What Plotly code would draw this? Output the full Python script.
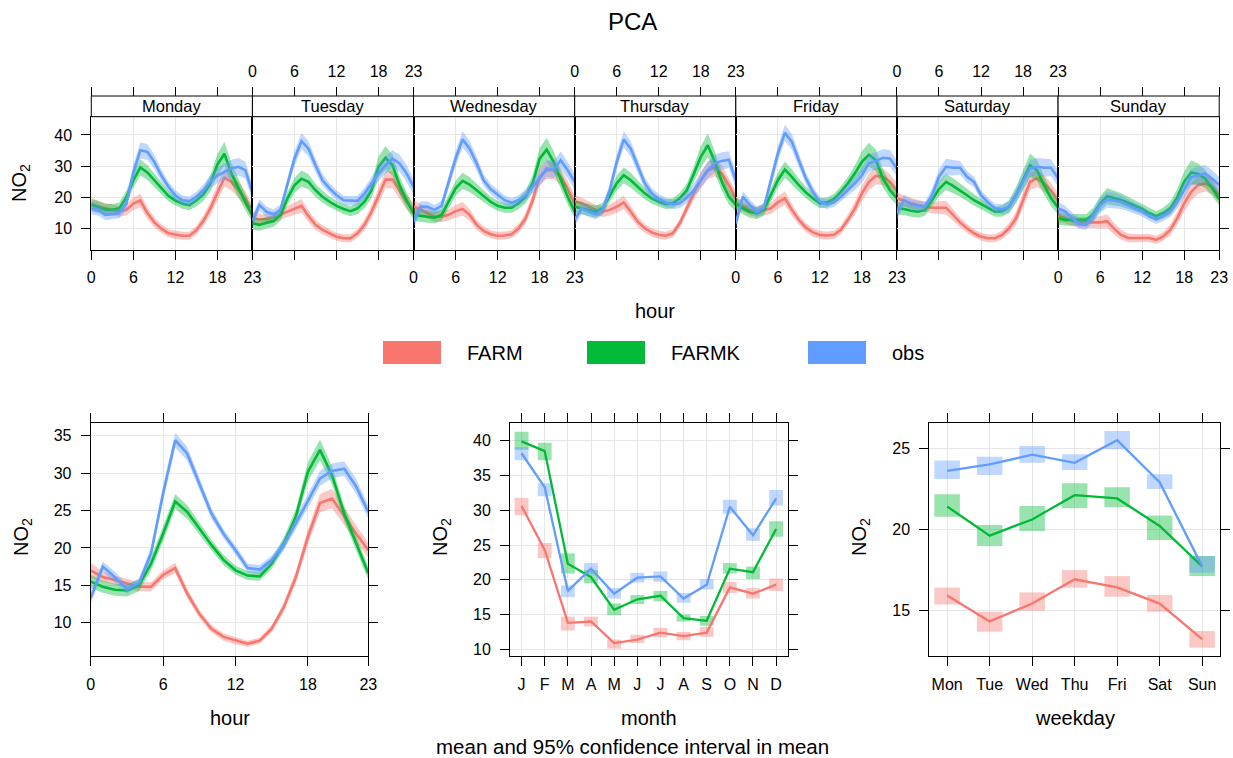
import plotly.graph_objects as go

W, H = 1233, 758
FONT = "Liberation Sans, Arial, Helvetica, sans-serif"
GRID = "#E6E6E6"
COLORS = {"FARM": "#F8766D", "FARMK": "#00BA38", "obs": "#619CFF"}

# ---------------- data ----------------
hours = list(range(24))
days = ["Monday", "Tuesday", "Wednesday", "Thursday", "Friday", "Saturday", "Sunday"]
hour_ticks = [0, 6, 12, 18, 23]
month_labels = ["J", "F", "M", "A", "M", "J", "J", "A", "S", "O", "N", "D"]
weekday_labels = ["Mon", "Tue", "Wed", "Thu", "Fri", "Sat", "Sun"]

# day x hour means (Mon..Sun)
FARM_week = [
    [18, 17, 16.5, 16, 15.5, 16, 18, 19, 15, 12, 10, 8.5, 8, 7.7, 7.7, 9.5, 12.5, 16.5, 21.5, 26.3, 25, 22.5, 19.5, 15.5],
    [13.3, 13, 13, 13.5, 14.5, 15.5, 16.5, 17.3, 14, 11.2, 9.6, 8.5, 7.4, 6.9, 6.9, 8.5, 11.2, 15.4, 20.7, 25.7, 25.7, 22.3, 18.6, 16],
    [17, 16.2, 14.9, 13.8, 13.8, 14.4, 15.6, 16.3, 14.4, 11.2, 9.3, 8.2, 7.7, 7.8, 8.2, 10.1, 13.3, 19.1, 26.6, 28.7, 28.7, 26.6, 22.9, 18.1],
    [18.8, 18.1, 17, 16, 15.4, 16, 17, 18.4, 15.4, 12.2, 10.1, 8.8, 8, 7.7, 8.5, 11.7, 16.5, 21.3, 25.5, 28.7, 29.5, 27.7, 23.9, 19.7],
    [18.1, 17.3, 16, 15.4, 16, 16.5, 18.4, 19.7, 16, 12.8, 10.3, 8.8, 8, 7.8, 8, 9.6, 12.8, 16.5, 21.3, 25, 26.9, 26.6, 25, 22.3],
    [19.7, 18.8, 18.1, 17.6, 17, 16.7, 16.7, 16.7, 14.4, 12, 10.1, 8.5, 7.4, 6.9, 6.9, 8, 10.1, 13.3, 19.1, 25, 26.1, 24.5, 22.3, 19.1],
    [14, 13.5, 12.5, 12, 12, 12, 12, 12.4, 10, 8, 7, 7, 7, 7, 6.4, 7.5, 9.6, 13.3, 18.1, 21.8, 24, 24.5, 23.4, 20.7],
]
FARMK_week = [
    [17.5, 17, 16, 16, 16.5, 20, 25.5, 29.6, 28, 25.5, 23, 20.5, 19, 18, 17.5, 19, 21, 24.5, 30.5, 34, 27.7, 22.9, 18.4, 14.2],
    [11.7, 11.2, 11.9, 12.4, 14.4, 19.7, 23.9, 26, 25, 22.3, 20.2, 18.6, 17.3, 16.3, 15.6, 16.5, 18.6, 22.3, 29.8, 32.7, 30.3, 23.9, 19.1, 14.9],
    [14.4, 14.1, 13.8, 13.5, 14.4, 18.6, 22.9, 25.3, 24.1, 22.3, 20.4, 18.6, 17.3, 16.7, 16.7, 18.1, 20.2, 24.5, 32.4, 35.3, 31.4, 25.5, 20.2, 15.4],
    [17, 16.5, 16, 15.4, 16.5, 20.7, 24.5, 27.1, 25.5, 23.4, 21.3, 19.7, 18.6, 17.8, 18.1, 19.7, 22.3, 27.5, 33, 36.7, 31.4, 25, 20.2, 17.6],
    [18.1, 16.5, 15.4, 14.9, 16, 20.7, 25.5, 28.9, 26.6, 23.9, 21.6, 19.7, 18.1, 18.4, 19.5, 21.8, 24.5, 27.7, 31.4, 33.7, 31.9, 26.1, 22.3, 19.7],
    [16.5, 16.3, 15.7, 15.4, 16, 19.1, 22.7, 25, 23.7, 22.3, 20.7, 19.1, 17.8, 16.5, 15.4, 15.6, 17, 20.7, 25.5, 30.3, 28.7, 23.9, 19.7, 16.7],
    [13.3, 12.8, 12.8, 12.8, 12.8, 14.5, 18, 20.4, 19.8, 19.2, 18.3, 17.3, 16.3, 15, 14, 15, 16.5, 20, 25, 28, 27.5, 26, 23, 19.5],
]
obs_week = [
    [16.5, 16, 14.4, 14.6, 14.9, 18, 28, 35.1, 34.6, 31.4, 27, 23.4, 20.7, 19.1, 18.8, 20.2, 22.3, 25, 27, 28.2, 29.3, 29.8, 28.7, 21.5],
    [12.4, 17.6, 15.4, 14.6, 16, 24.5, 32.4, 38, 35.6, 30.3, 25.5, 22.9, 20.7, 19.1, 18.9, 18.9, 21.3, 24.5, 27.7, 30.3, 32.4, 30.9, 27.7, 23.4],
    [12.2, 17, 17, 16, 17.3, 25, 32.4, 38.6, 35.6, 30.9, 25.5, 22.7, 21, 19.1, 18.3, 19.1, 20.7, 23.4, 26.1, 29.3, 28.9, 31.9, 28.7, 25],
    [12.8, 16.5, 15.4, 14.6, 16, 22.3, 31.4, 38.6, 35.6, 29.8, 24.5, 21.3, 19.5, 18.4, 17.8, 18.1, 19.9, 22.3, 25.5, 28.7, 30.9, 31.7, 32.1, 25.5],
    [11.7, 20.2, 17.6, 15.4, 16.7, 25, 34, 40.7, 37.8, 31.9, 26.1, 21.8, 18.6, 17.8, 18.4, 20.2, 22.3, 24.5, 27.1, 30.9, 31.7, 32.7, 32.5, 29.3],
    [14.9, 19.1, 17.8, 17.3, 17, 20.7, 26.6, 29.8, 29.5, 29.5, 26.6, 25, 20.7, 18.4, 16.5, 16.2, 17, 20.7, 25, 29.3, 29.8, 29.5, 29.5, 26.1],
    [16.5, 15.5, 13.5, 11.5, 11.2, 14, 17.5, 19.3, 19, 18.5, 17.5, 16.5, 15.5, 14, 13, 14, 15.5, 18.5, 22.5, 26.5, 27, 27.7, 26, 24],
]
# 95% CI half-widths by hour for the day x hour panels
FARM_week_ci = [2.0, 1.8, 1.7, 1.7, 1.7, 1.8, 2.0, 2.2, 1.9, 1.6, 1.4, 1.3, 1.3, 1.3, 1.3, 1.4, 1.7, 2.1, 2.6, 2.8, 2.8, 2.6, 2.4, 2.2]
FARMK_week_ci = [2.0, 1.9, 1.9, 1.9, 1.9, 2.1, 2.4, 2.6, 2.4, 2.1, 1.9, 1.7, 1.6, 1.6, 1.6, 1.8, 2.1, 2.6, 3.4, 3.8, 3.4, 2.9, 2.5, 2.2]
obs_week_ci = [2.0, 1.8, 1.7, 1.6, 1.6, 2.0, 2.4, 2.6, 2.5, 2.2, 1.9, 1.7, 1.6, 1.5, 1.5, 1.6, 1.8, 2.1, 2.5, 2.7, 2.8, 2.8, 2.7, 2.5]

# overall hour panel
FARM_hour = [17, 16.1, 15.7, 15.2, 14.8, 14.8, 16.4, 17.3, 13.9, 11.2, 9.2, 8.1, 7.6, 7.2, 7.6, 9.2, 12.1, 16.1, 21.5, 26, 26.6, 24.2, 21.9, 19.7]
FARMK_hour = [15.5, 14.8, 14.4, 14.3, 15, 17.9, 21.9, 26.2, 24.8, 22.6, 20.4, 18.4, 17, 16.3, 16.2, 17.9, 20.6, 24.2, 30.2, 33.1, 29.7, 24.6, 20.6, 16.6]
obs_hour = [13.3, 17.5, 16.1, 14.5, 15.3, 19.3, 27.3, 34.4, 32.6, 28.6, 24.6, 21.9, 19.7, 17.3, 17.1, 18.4, 20.4, 23.3, 26.4, 29.3, 30.3, 30.6, 28.2, 24.8]
FARM_hour_ci = [1.0, 0.7, 0.6, 0.6, 0.6, 0.6, 0.6, 0.7, 0.6, 0.5, 0.5, 0.5, 0.5, 0.4, 0.4, 0.5, 0.6, 0.8, 1.0, 1.2, 1.3, 1.2, 1.1, 1.0]
FARMK_hour_ci = [0.9, 0.8, 0.8, 0.8, 0.8, 0.9, 1.0, 1.0, 0.9, 0.8, 0.7, 0.7, 0.6, 0.6, 0.6, 0.7, 0.8, 1.0, 1.3, 1.4, 1.2, 1.0, 0.9, 0.9]
obs_hour_ci = [0.8, 0.7, 0.7, 0.6, 0.6, 0.8, 1.0, 1.0, 0.9, 0.8, 0.7, 0.6, 0.6, 0.6, 0.6, 0.6, 0.7, 0.8, 0.9, 1.0, 1.0, 1.0, 1.0, 0.9]

# month panel
FARM_month = [30.6, 24.3, 13.8, 14, 10.9, 11.4, 12.4, 11.9, 12.4, 18.9, 18, 19.3]
FARM_month_lo = [29.3, 23.1, 12.7, 13.3, 10.1, 10.9, 11.7, 11.3, 11.8, 18.1, 17.3, 18.4]
FARM_month_hi = [31.8, 25.3, 14.7, 14.7, 11.4, 12.1, 13.1, 12.5, 13.2, 19.7, 18.8, 20.2]
FARMK_month = [39.9, 38.5, 22.3, 20.4, 15.7, 17.2, 17.7, 14.5, 14.1, 21.6, 21.1, 27.3]
FARMK_month_lo = [38.7, 37.2, 20.9, 19.5, 14.9, 16.5, 16.9, 14.0, 13.4, 20.9, 20.1, 26.2]
FARMK_month_hi = [41.3, 39.7, 23.8, 21.4, 16.6, 17.8, 18.4, 15.0, 14.8, 22.4, 21.9, 28.4]
obs_month = [38.2, 33.3, 18.4, 21.6, 18, 20.3, 20.5, 17.3, 19.3, 30.5, 26.4, 31.7]
obs_month_lo = [37.2, 32.0, 17.5, 20.8, 17.3, 19.6, 19.7, 16.7, 18.6, 29.5, 25.6, 30.7]
obs_month_hi = [39.1, 33.9, 19.2, 22.4, 18.8, 21.0, 21.2, 18.1, 20.1, 31.5, 27.4, 32.9]

# weekday panel
FARM_wday = [15.9, 14.3, 15.4, 16.9, 16.4, 15.4, 13.2]
FARM_wday_lo = [15.35, 13.66, 14.96, 16.38, 15.82, 14.90, 12.67]
FARM_wday_hi = [16.40, 14.90, 16.09, 17.47, 17.10, 15.93, 13.70]
FARMK_wday = [21.4, 19.6, 20.6, 22.1, 21.9, 20.2, 17.7]
FARMK_wday_lo = [20.77, 18.96, 19.89, 21.29, 21.35, 19.33, 17.10]
FARMK_wday_hi = [22.15, 20.26, 21.43, 22.84, 22.59, 20.84, 18.34]
obs_wday = [23.6, 24.0, 24.6, 24.1, 25.5, 22.9, 17.7]
obs_wday_lo = [23.10, 23.35, 24.11, 23.66, 24.94, 22.48, 17.31]
obs_wday_hi = [24.24, 24.48, 25.14, 24.63, 26.07, 23.39, 18.34]


# ---------------- helpers ----------------
def rgba(hexc, a):
    h = hexc.lstrip("#")
    return "rgba(%d,%d,%d,%.3f)" % (int(h[0:2], 16), int(h[2:4], 16), int(h[4:6], 16), a)


def px(x):
    return x / W


def py(y):
    return 1 - y / H


TICKFONT = dict(family=FONT, size=16, color="black")
fig = go.Figure()
layout = dict(
    width=W, height=H, margin=dict(l=0, r=0, t=0, b=0, pad=0, autoexpand=False),
    paper_bgcolor="white", plot_bgcolor="white", showlegend=False,
    barmode="overlay", font=dict(family=FONT, color="black"),
)


def axid(n):
    return "" if n == 1 else str(n)


def add_band_line(xvals, mean, lo, hi, col, xa, ya, lw):
    fig.add_trace(go.Scatter(
        x=list(xvals) + list(xvals)[::-1], y=list(hi) + list(lo)[::-1],
        fill="toself", fillcolor=rgba(col, 0.4), line=dict(width=0),
        mode="lines", xaxis=xa, yaxis=ya, hoverinfo="skip", showlegend=False))
    fig.add_trace(go.Scatter(
        x=list(xvals), y=mean, mode="lines", line=dict(color=col, width=lw),
        xaxis=xa, yaxis=ya, hoverinfo="skip", showlegend=False))


# ---------------- top: day x hour ----------------
X0, PW = 91.3, 161.13
TOP_Y0, TOP_Y1, STRIP_TOP = 250.3, 116.7, 96.0
week_series = [("FARM", FARM_week, FARM_week_ci), ("FARMK", FARMK_week, FARMK_week_ci),
               ("obs", obs_week, obs_week_ci)]

for d in range(7):
    n = d + 1
    xa, ya = "x" + axid(n), "y" + axid(n)
    for name, wk, ci in week_series:
        vals = wk[d]
        hi = [v + c for v, c in zip(vals, ci)]
        lo = [v - c for v, c in zip(vals, ci)]
        add_band_line(hours, vals, lo, hi, COLORS[name], xa, ya, 2.6)
    # invisible trace so the top (strip) axis is drawn
    fig.add_trace(go.Scatter(x=[0, 23], y=[None, None], mode="markers",
                             xaxis="x" + str(8 + d), yaxis=ya, hoverinfo="skip", showlegend=False))
    left, right = X0 + d * PW, X0 + (d + 1) * PW
    layout["xaxis" + axid(n)] = dict(
        domain=[px(left), px(right)], range=[0, 23], anchor=ya, automargin=False,
        tickmode="array", tickvals=hour_ticks, ticks="outside", ticklen=9, tickwidth=1,
        tickcolor="black", showticklabels=(d % 2 == 0), tickfont=TICKFONT,
        ticklabelstandoff=3, showline=True, linecolor="black", linewidth=1, mirror=True,
        showgrid=True, gridcolor=GRID, gridwidth=1, zeroline=False)
    layout["yaxis" + axid(n)] = dict(
        domain=[py(TOP_Y0), py(TOP_Y1)], range=[3.05, 45.86], anchor=xa, automargin=False,
        tickmode="array", tickvals=[10, 20, 30, 40],
        ticks="outside" if d in (0, 6) else "", ticklen=9, tickwidth=1, tickcolor="black",
        side="right" if d == 6 else "left", showticklabels=(d == 0), tickfont=TICKFONT,
        ticklabelstandoff=6, showline=True, linecolor="black", linewidth=1, mirror=True,
        showgrid=True, gridcolor=GRID, gridwidth=1, zeroline=False)
    layout["xaxis" + str(8 + d)] = dict(
        domain=[px(left), px(right)], range=[0, 23], overlaying=xa, anchor="free",
        position=py(STRIP_TOP), side="top", automargin=False,
        tickmode="array", tickvals=hour_ticks, ticks="outside", ticklen=9, tickwidth=1,
        tickcolor="black", showticklabels=(d % 2 == 1), tickfont=TICKFONT,
        ticklabelstandoff=4, showline=False, showgrid=False, zeroline=False)

# ---------------- bottom panels ----------------
BOT_Y0, BOT_Y1 = 656.0, 422.7


def bottom_axes(xn, yn, x_left, x_right, xrange, xticks, xtext, yrange, yticks):
    layout["xaxis" + str(xn)] = dict(
        domain=[px(x_left), px(x_right)], range=xrange, anchor="y" + str(yn), automargin=False,
        tickmode="array", tickvals=xticks, ticktext=xtext, ticks="outside", ticklen=9,
        tickwidth=1, tickcolor="black", tickfont=TICKFONT, ticklabelstandoff=5,
        showline=True, linecolor="black", linewidth=1, mirror="ticks",
        showgrid=True, gridcolor=GRID, gridwidth=1, zeroline=False)
    layout["yaxis" + str(yn)] = dict(
        domain=[py(BOT_Y0), py(BOT_Y1)], range=yrange, anchor="x" + str(xn), automargin=False,
        tickmode="array", tickvals=yticks, ticks="outside", ticklen=9, tickwidth=1,
        tickcolor="black", tickfont=TICKFONT, ticklabelstandoff=6,
        showline=True, linecolor="black", linewidth=1, mirror="ticks",
        showgrid=True, gridcolor=GRID, gridwidth=1, zeroline=False)


# hour
hour_series = [("FARM", FARM_hour, FARM_hour_ci), ("FARMK", FARMK_hour, FARMK_hour_ci),
               ("obs", obs_hour, obs_hour_ci)]
for name, vals, ci in hour_series:
    hi = [v + c for v, c in zip(vals, ci)]
    lo = [v - c for v, c in zip(vals, ci)]
    add_band_line(hours, vals, lo, hi, COLORS[name], "x15", "y8", 2.6)
bottom_axes(15, 8, 90.7, 368.3, [0, 23], hour_ticks, [str(t) for t in hour_ticks],
            [5.55, 36.74], [10, 15, 20, 25, 30, 35])

# month
months = list(range(1, 13))
month_series = [("FARM", FARM_month, FARM_month_lo, FARM_month_hi),
                ("FARMK", FARMK_month, FARMK_month_lo, FARMK_month_hi),
                ("obs", obs_month, obs_month_lo, obs_month_hi)]
for name, vals, lo, hi in month_series:
    fig.add_trace(go.Bar(x=months, y=[h - l for h, l in zip(hi, lo)], base=lo, width=0.6,
                         marker=dict(color=rgba(COLORS[name], 0.4), line=dict(width=0)),
                         xaxis="x16", yaxis="y9", hoverinfo="skip", showlegend=False))
for name, vals, lo, hi in month_series:
    fig.add_trace(go.Scatter(x=months, y=vals, mode="lines",
                             line=dict(color=COLORS[name], width=2.3),
                             xaxis="x16", yaxis="y9", hoverinfo="skip", showlegend=False))
bottom_axes(16, 9, 510.0, 787.7, [0.5, 12.5], months, month_labels,
            [9.04, 42.59], [10, 15, 20, 25, 30, 35, 40])

# weekday
wdays = list(range(1, 8))
wday_series = [("FARM", FARM_wday, FARM_wday_lo, FARM_wday_hi),
               ("FARMK", FARMK_wday, FARMK_wday_lo, FARMK_wday_hi),
               ("obs", obs_wday, obs_wday_lo, obs_wday_hi)]
for name, vals, lo, hi in wday_series:
    fig.add_trace(go.Bar(x=wdays, y=[h - l for h, l in zip(hi, lo)], base=lo, width=0.6,
                         marker=dict(color=rgba(COLORS[name], 0.4), line=dict(width=0)),
                         xaxis="x17", yaxis="y10", hoverinfo="skip", showlegend=False))
for name, vals, lo, hi in wday_series:
    fig.add_trace(go.Scatter(x=wdays, y=vals, mode="lines",
                             line=dict(color=COLORS[name], width=2.3),
                             xaxis="x17", yaxis="y10", hoverinfo="skip", showlegend=False))
bottom_axes(17, 10, 929.3, 1220.0, [0.58, 7.42], wdays, weekday_labels,
            [12.16, 26.58], [15, 20, 25])

# ---------------- strips, legend, titles ----------------
shapes = []
annotations = []
for d in range(7):
    left, right = X0 + d * PW, X0 + (d + 1) * PW
    shapes.append(dict(type="rect", xref="paper", yref="paper",
                       x0=px(left), x1=px(right), y0=py(TOP_Y1), y1=py(STRIP_TOP),
                       line=dict(color="black", width=1), fillcolor="white", layer="above"))
    annotations.append(dict(text=days[d], x=px((left + right) / 2), y=py((TOP_Y1 + STRIP_TOP) / 2),
                            xref="paper", yref="paper", showarrow=False,
                            xanchor="center", yanchor="middle", font=dict(size=16.5)))


def label(text, x, y, size, angle=0, xanchor="center"):
    annotations.append(dict(text=text, x=px(x), y=py(y), xref="paper", yref="paper",
                            showarrow=False, xanchor=xanchor, yanchor="middle",
                            textangle=angle, font=dict(size=size, family=FONT, color="black")))


label("PCA", 632, 22, 24)
label("hour", 655, 311, 20)
label("NO<sub>2</sub>", 20, 183, 20, angle=-90)
label("NO<sub>2</sub>", 22, 537, 20, angle=-90)
label("NO<sub>2</sub>", 441, 537, 20, angle=-90)
label("NO<sub>2</sub>", 860, 537, 20, angle=-90)
label("hour", 230, 718, 20)
label("month", 649, 718, 20)
label("weekday", 1075, 718, 20)
label("mean and 95% confidence interval in mean", 632, 746, 20.5)

legend_items = [("FARM", 383, 465), ("FARMK", 587, 669), ("obs", 808, 890)]
for name, rx, tx in legend_items:
    shapes.append(dict(type="rect", xref="paper", yref="paper",
                       x0=px(rx), x1=px(rx + 58), y0=py(364), y1=py(341),
                       line=dict(width=0), fillcolor=COLORS[name]))
    label(name, tx, 352.5, 20, xanchor="left")

layout["shapes"] = shapes
layout["annotations"] = annotations
fig.update_layout(**layout)
fig.write_html("out.html")
